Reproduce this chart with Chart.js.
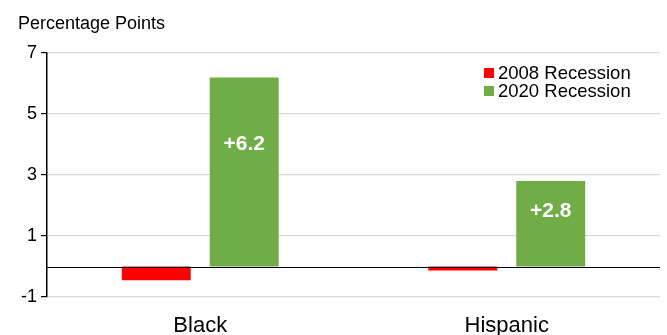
<!DOCTYPE html>
<html><head><meta charset="utf-8">
<script src="https://cdn.jsdelivr.net/npm/chart.js@4"></script>
<style>html,body{margin:0;padding:0;background:#fff;}#wrap{width:667px;height:335px;position:relative;}</style>
</head><body><div id="wrap"><canvas id="c" width="667" height="335"></canvas></div>
<script>
const categories = ["Black", "Hispanic"];
const recession2008 = [-0.45, -0.13];
const recession2020 = [6.2, 2.8];
const seriesNames = ["2008 Recession", "2020 Recession"];
const yTicks = [-1, 1, 3, 5, 7];
const yTitle = "Percentage Points";
const FONT = "'Liberation Sans', Arial, sans-serif";

const extras = {
  id: 'extras',
  afterDatasetsDraw(chart) {
    const ctx = chart.ctx;
    const y = chart.scales.y;
    const ca = chart.chartArea;
    const z = Math.round(y.getPixelForValue(0)) + 0.5;
    ctx.save();
    ctx.strokeStyle = '#000'; ctx.lineWidth = 1.2;
    ctx.beginPath(); ctx.moveTo(ca.left, z); ctx.lineTo(ca.right, z); ctx.stroke();
    const meta = chart.getDatasetMeta(1);
    ctx.fillStyle = '#fff';
    ctx.font = "bold 21px " + FONT;
    ctx.textAlign = 'center'; ctx.textBaseline = 'middle';
    meta.data.forEach((bar, i) => {
      const v = chart.data.datasets[1].data[i];
      const ly = y.getPixelForValue(v * 0.645);
      ctx.fillText('+' + v.toFixed(1), bar.x, ly);
    });
    ctx.fillStyle = '#000';
    ctx.font = "18px " + FONT;
    ctx.textAlign = 'left'; ctx.textBaseline = 'middle';
    ctx.fillText(yTitle, 18, 24);
    ctx.font = "18.5px " + FONT;
    chart.data.datasets.forEach((ds, i) => {
      const ly = 73 + i * 18;
      ctx.fillStyle = ds.backgroundColor;
      ctx.fillRect(484, ly - 5, 10, 10);
      ctx.fillStyle = '#000';
      ctx.fillText(ds.label, 498, ly + 1);
    });
    ctx.restore();
  }
};

new Chart(document.getElementById('c'), {
  type: 'bar',
  data: {
    labels: categories,
    datasets: [
      { label: seriesNames[0], data: recession2008, backgroundColor: '#ff0000', categoryPercentage: 0.574, barPercentage: 0.784 },
      { label: seriesNames[1], data: recession2020, backgroundColor: '#70ad47', categoryPercentage: 0.574, barPercentage: 0.784 }
    ]
  },
  options: {
    responsive: false,
    animation: false,
    devicePixelRatio: 1,
    layout: { padding: { top: 53, right: 7, left: 0, bottom: 0 } },
    plugins: { legend: { display: false }, tooltip: { enabled: false }, title: { display: false } },
    scales: {
      x: {
        afterFit(scale) { scale.height = 38; },
        grid: { display: false },
        border: { display: false },
        ticks: { color: '#000', font: { family: FONT, size: 22 }, padding: 8 }
      },
      y: {
        min: -1, max: 7,
        afterBuildTicks(scale) { scale.ticks = yTicks.map(v => ({ value: v })); },
        afterFit(scale) { scale.width = 47; },
        grid: { color: '#d9d9d9', tickColor: '#000', tickLength: 6, lineWidth: 1.2 },
        border: { color: '#000', width: 1.5 },
        ticks: { color: '#000', font: { family: FONT, size: 18 }, padding: 4 }
      }
    }
  },
  plugins: [extras]
});
</script></body></html>
